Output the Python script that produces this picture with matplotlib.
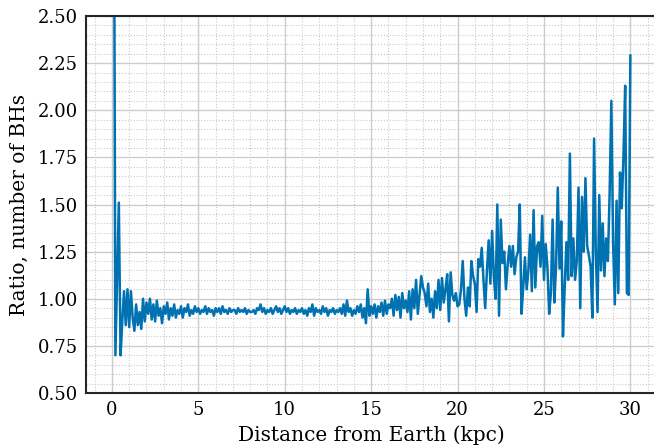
import matplotlib
matplotlib.use("Agg")
import matplotlib.pyplot as plt
import numpy as np
from matplotlib.ticker import MultipleLocator

# distance bins (kpc), 0.1 kpc apart
distance = np.round(np.arange(1, 301) * 0.1, 2)

# ratio of BH counts per bin, one line per kpc
ratio = [
    4.00, 0.70, 1.10, 1.51, 0.70, 0.88, 1.04, 0.86, 1.05, 0.85,
    1.04, 0.90, 0.83, 0.97, 0.86, 0.93, 0.84, 1.00, 0.88, 0.98,
    0.92, 1.00, 0.89, 0.97, 0.88, 0.99, 0.91, 0.95, 0.87, 0.96,
    0.92, 0.98, 0.89, 0.95, 0.91, 0.97, 0.90, 0.94, 0.92, 0.96,
    0.90, 0.95, 0.93, 0.97, 0.91, 0.94, 0.92, 0.96, 0.93, 0.95,
    0.92, 0.94, 0.93, 0.96, 0.92, 0.95, 0.93, 0.94, 0.91, 0.95,
    0.93, 0.95, 0.92, 0.96, 0.93, 0.94, 0.92, 0.95, 0.93, 0.94,
    0.94, 0.92, 0.95, 0.93, 0.94, 0.93, 0.95, 0.92, 0.94, 0.93,
    0.93, 0.94, 0.92, 0.95, 0.94, 0.97, 0.93, 0.95, 0.92, 0.94,
    0.93, 0.95, 0.92, 0.94, 0.96, 0.93, 0.95, 0.92, 0.94, 0.96,
    0.93, 0.95, 0.92, 0.94, 0.93, 0.95, 0.92, 0.94, 0.93, 0.95,
    0.92, 0.94, 0.91, 0.95, 0.93, 0.97, 0.91, 0.95, 0.93, 0.94,
    0.92, 0.96, 0.93, 0.95, 0.91, 0.94, 0.93, 0.95, 0.92, 0.94,
    0.93, 0.95, 0.92, 0.97, 0.91, 0.99, 0.93, 0.95, 0.91, 0.94,
    0.92, 0.96, 0.93, 0.97, 0.90, 0.95, 0.87, 1.05, 0.91, 0.96,
    0.92, 0.97, 0.90, 0.96, 0.93, 0.98, 0.91, 0.99, 0.92, 0.97,
    0.95, 1.00, 0.91, 1.02, 0.94, 1.01, 0.90, 1.03, 0.95, 0.99,
    0.93, 1.04, 0.89, 1.05, 0.95, 1.10, 0.92, 1.02, 1.12, 1.06,
    1.03, 0.96, 1.08, 0.93, 1.00, 0.90, 1.04, 0.95, 1.10, 0.94,
    1.11, 0.98, 1.05, 1.13, 0.88, 1.14, 1.02, 0.99, 1.03, 0.96,
    0.97, 1.05, 1.20, 1.00, 0.91, 1.06, 0.96, 1.20, 1.12, 1.08,
    0.93, 1.21, 1.17, 1.27, 1.10, 0.95, 1.15, 1.31, 1.08, 1.36,
    1.12, 1.00, 1.50, 0.91, 1.42, 1.19, 1.25, 1.05, 1.18, 1.28,
    1.17, 1.28, 1.13, 1.22, 1.25, 1.50, 0.92, 1.06, 1.22, 1.05,
    1.15, 1.34, 1.04, 1.47, 1.06, 1.28, 1.30, 1.17, 1.44, 1.10,
    1.29, 1.17, 0.92, 1.03, 1.42, 0.98, 1.17, 1.59, 1.16, 1.41,
    0.80, 1.06, 1.30, 1.10, 1.77, 1.12, 1.32, 1.10, 1.20, 1.59,
    0.95, 1.54, 1.25, 1.64, 1.28, 1.23, 1.17, 0.90, 1.85, 1.25,
    0.93, 1.55, 1.15, 1.40, 1.12, 1.32, 1.20, 1.56, 2.05, 1.30,
    0.97, 1.52, 1.03, 1.67, 1.48, 1.76, 2.13, 1.03, 1.02, 2.29,
]

plt.rcParams['font.family'] = 'DejaVu Serif'

fig = plt.figure(figsize=(6.54, 4.47), dpi=100)
ax = fig.add_axes([0.1315, 0.1208, 0.872, 0.8434])  # right edge runs off the figure like the reference

ax.plot(distance, ratio, color='#0072b2', lw=1.8)

ax.set_xlim(-1.5, 31.5)
ax.set_ylim(0.5, 2.5)
ax.xaxis.set_major_locator(MultipleLocator(5))
ax.xaxis.set_minor_locator(MultipleLocator(1))
ax.yaxis.set_major_locator(MultipleLocator(0.25))
ax.yaxis.set_minor_locator(MultipleLocator(0.05))
ax.yaxis.set_major_formatter(matplotlib.ticker.FormatStrFormatter('%.2f'))

ax.grid(which='major', color='#cccccc', lw=1.0)
ax.grid(which='minor', color='#c8c8c8', lw=0.8, ls=':')
ax.set_axisbelow(True)
ax.tick_params(which='both', length=0, labelsize=13, pad=6)

for s in ax.spines.values():
    s.set_color('#262626')
    s.set_linewidth(1.5)

ax.set_xlabel("Distance from Earth (kpc)", fontsize=14.5, labelpad=4)
ax.set_ylabel("Ratio, number of BHs", fontsize=14.5, labelpad=6)

fig.savefig("out.png", dpi=100)
